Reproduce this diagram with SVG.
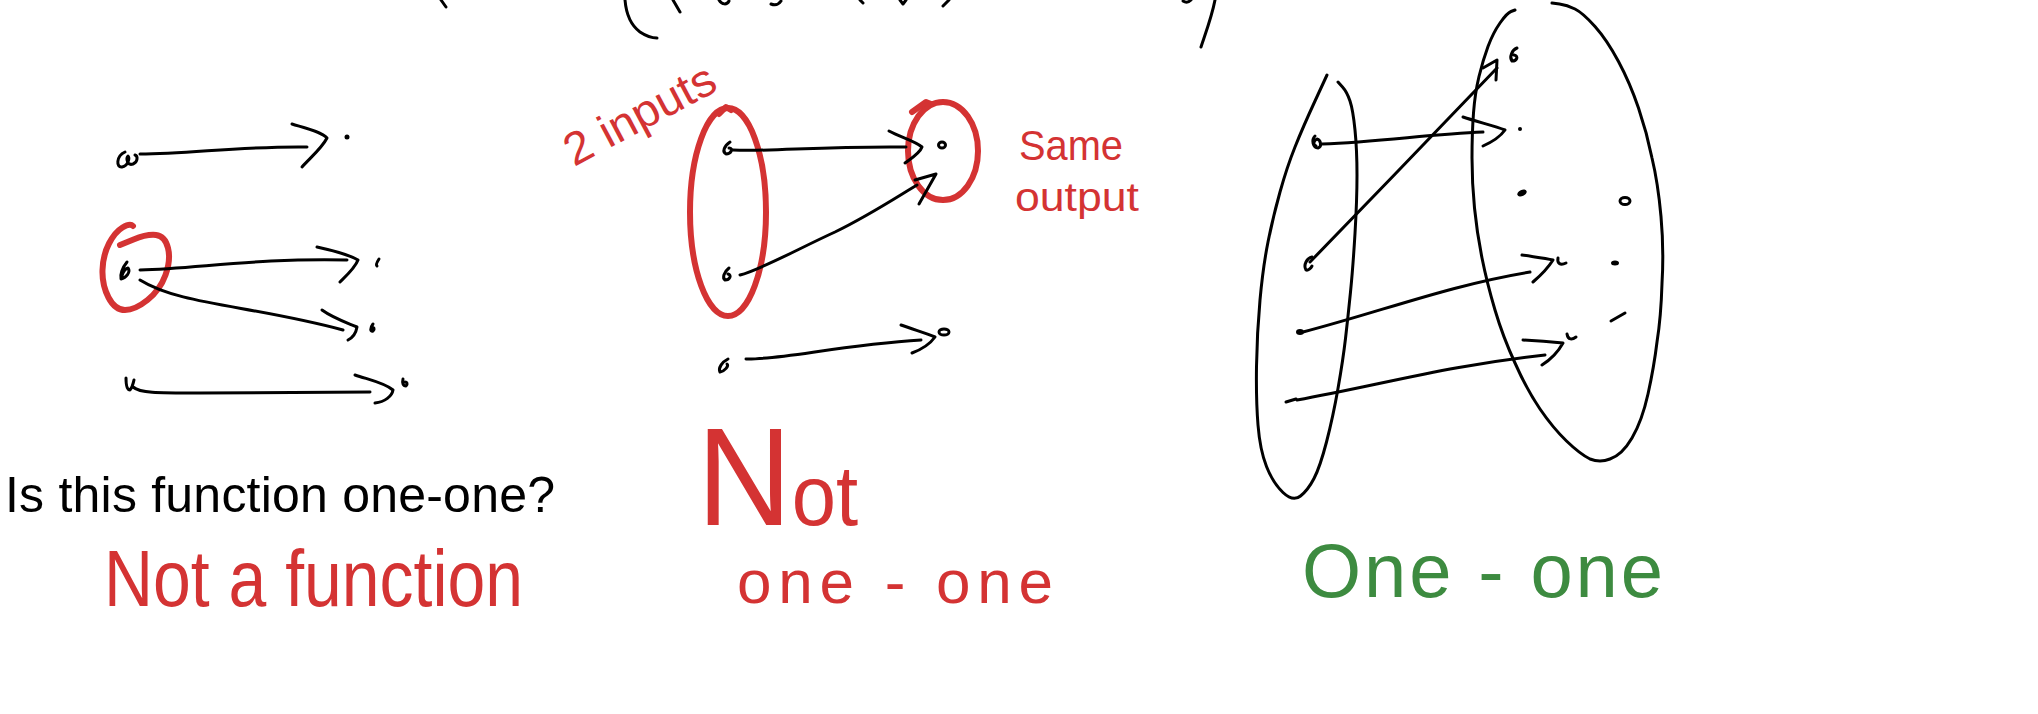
<svg xmlns="http://www.w3.org/2000/svg" width="2038" height="714" viewBox="0 0 2038 714">
<style>
.ink{fill:none;stroke:#000;stroke-width:3;stroke-linecap:round;stroke-linejoin:round}
.red{fill:none;stroke:#d43333;stroke-width:6;stroke-linecap:round;stroke-linejoin:round}
.dot{fill:#000}
.t{font-family:"Liberation Sans",Arial,sans-serif}
.tr{fill:#d43333}
.tg{fill:#3d8b40}
.tb{fill:#000}
</style>
<rect width="2038" height="714" fill="#fff"/>

<g id="top-fragments">
<path class="ink" d="M441,0 L446,7"/>
<path class="ink" d="M625,0 C626,12 629,24 640,32 C646,36 652,38 657,38"/>
<path class="ink" d="M673,0 L680,12"/>
<path class="ink" d="M719,0 C722,5 727,5 729,1"/>
<path class="ink" d="M771,4 C776,6 779,4 781,1"/>
<path class="ink" d="M860,0 L863,3"/>
<path class="ink" d="M900,0 L903,4 L906,0"/>
<path class="ink" d="M949,0 L943,6"/>
<path class="ink" d="M1183,1 C1186,3 1189,2 1191,0"/>
<path class="ink" d="M1215,0 C1212,16 1206,32 1201,47"/>
</g>

<g id="left-diagram">
<g id="L-in1"><path class="ink" d="M125,152 C116,156 116,168 122,167 C128,166 130,158 128,156 C126,158 127,166 133,164 C138,162 138,156 135,155"/></g>
<g id="L-in2"><path class="ink" d="M127,262 C122,268 120,275 121,279 C126,278 131,272 128,268 C124,269 123,272 122,276"/></g>
<g id="L-in3"><path class="ink" d="M126,378 C126,385 127,390 130,390 C133,387 133,383 134,380"/></g>
<g id="L-out1"><circle class="dot" cx="347" cy="137" r="2.5"/></g>
<g id="L-out2"><path class="ink" d="M379,259 C377,262 376,265 377,266"/></g>
<g id="L-out3"><path class="ink" d="M373,324 C370,328 370,332 373,331 C375,329 374,327 372,328"/></g>
<g id="L-out4"><path class="ink" d="M403,379 C402,383 403,386 406,386 C408,384 407,382 405,382"/></g>
<g id="L-circle"><path class="red" d="M120,245 L133.5,239.5 Q147,234 156,235 Q165,236 168,248 Q171,260 165.5,275 Q160,290 147.5,300 Q135,310 125,310 Q115,310 108.5,297.5 Q102,285 102.5,270 Q103,255 109,243.5 Q115,232 122.5,227.5 Q130,223 133,226"/></g>
</g>

<g id="middle-diagram">
<g id="M-in1"><path class="ink" d="M730,142 C724,146 722,152 726,154 C731,154 734,148 729,148"/></g>
<g id="M-in2"><path class="ink" d="M729,268 C724,272 722,278 725,280 C730,280 732,275 728,274"/></g>
<g id="M-in3"><path class="ink" d="M728,359 C722,362 718,368 720,372 C725,371 729,366 727,364"/></g>
<g id="M-out1"><ellipse class="ink" cx="942" cy="145" rx="3.5" ry="3"/></g>
<g id="M-out2"><ellipse class="ink" cx="944" cy="332" rx="5" ry="3"/></g>
<g id="M-inputs"><ellipse class="red" cx="728" cy="212" rx="38" ry="104"/><path class="red" d="M719,114 L726,107 L731,110"/></g>
<g id="M-output"><ellipse class="red" cx="943" cy="151" rx="35" ry="49"/><path class="red" d="M912,112 L926,102 L931,104"/></g>
</g>

<g id="right-diagram">
<g id="R-domain"><path class="ink" d="M1327,75 L1315,101 Q1303,127 1295,147 Q1287,167 1280,192 Q1273,217 1268,242 Q1263,267 1260,300 Q1257,333 1256.5,366.5 Q1256,400 1258,425 Q1260,450 1266.5,466.5 Q1273,483 1283,492.5 Q1293,502 1300.5,496 Q1308,490 1314,478.5 Q1320,467 1326.5,442 Q1333,417 1338,388.5 Q1343,360 1345.5,338.5 Q1348,317 1350.5,292 Q1353,267 1355,233.5 Q1357,200 1357,175 Q1357,150 1355,130 Q1353,110 1350,101 Q1347,92 1342.5,87 L1338,82"/></g>
<g id="R-codomain"><path class="ink" d="M1515,10 L1511,11.5 Q1507,13 1500,23 Q1493,33 1488,46.5 Q1483,60 1479,76.5 Q1475,93 1473.5,113 Q1472,133 1472,158 Q1472,183 1474.5,208 Q1477,233 1482,258 Q1487,283 1495,310 Q1503,337 1515,363 Q1527,390 1540,409 Q1553,428 1566.5,441 Q1580,454 1590,459 Q1600,463 1610,459 Q1622,455 1632,438 Q1642,421 1648,394 Q1654,367 1657,342 Q1661,317 1662,283.5 Q1664,250 1661,216.5 Q1658,183 1652,158 Q1647,133 1638.5,108 Q1630,83 1618.5,61.5 Q1607,40 1595,26.5 Q1583,13 1575,9 Q1567,5 1559.5,4 L1552,3"/></g>
<g id="R-in1"><path class="ink" d="M1315,136 C1311,140 1313,148 1318,148 C1322,147 1321,140 1317,139 C1313,141 1313,145 1316,146"/></g>
<g id="R-in2"><path class="ink" d="M1312,257 C1307,258 1303,265 1306,270 C1308,271 1311,268 1312,266"/></g>
<g id="R-in3"><ellipse class="dot" cx="1300" cy="332" rx="4" ry="3"/></g>
<g id="R-in4"><path class="ink" d="M1286,402 L1296,399"/></g>
<g id="R-out1"><path class="ink" d="M1517,48 C1512,50 1509,57 1512,61 C1517,61 1519,56 1514,55"/></g>
<g id="R-out2"><circle class="dot" cx="1520" cy="129" r="2"/></g>
<g id="R-out3"><ellipse class="dot" cx="1522" cy="193" rx="5" ry="3" transform="rotate(-25 1522 193)"/></g>
<g id="R-out4"><ellipse class="ink" cx="1625" cy="201" rx="5" ry="3.5"/></g>
<g id="R-out5"><path class="ink" d="M1558,258 C1557,263 1560,266 1566,263"/></g>
<g id="R-out6"><ellipse class="dot" cx="1615" cy="263" rx="4" ry="2.5"/></g>
<g id="R-out7"><path class="ink" d="M1611,321 L1625,313"/></g>
<g id="R-out8"><path class="ink" d="M1567,334 C1568,340 1572,340 1576,337"/></g>
</g>

<g id="connectors">
<path class="ink" d="M140,154 C190,154 240,146 307,147"/>
<path class="ink" d="M292,124 C305,128 322,132 327,138 C322,148 310,158 302,167"/>
<path class="ink" d="M140,270 C200,268 260,258 347,260"/>
<path class="ink" d="M317,247 C335,251 350,255 358,260 C355,268 346,276 340,282"/>
<path class="ink" d="M140,280 C180,305 250,305 343,330"/>
<path class="ink" d="M322,310 C333,318 345,322 357,327 C356,333 352,338 348,340"/>
<path class="ink" d="M133,387 C140,393 155,393 200,393 L370,392"/>
<path class="ink" d="M355,375 C370,380 385,383 393,390 C392,396 385,402 375,403"/>

<path class="ink" d="M733,150 C770,152 820,146 906,147"/>
<path class="ink" d="M889,131 C900,137 915,141 922,147 C920,153 912,158 905,163"/>
<path class="ink" d="M740,275 C760,270 800,248 835,232 C870,215 900,195 917,185"/>
<path class="ink" d="M915,180 L936,174 L919,204"/>
<path class="ink" d="M746,359 C780,360 840,345 921,340"/>
<path class="ink" d="M901,325 C915,330 928,334 935,337 C930,344 920,350 912,353"/>

<path class="ink" d="M1322,144 C1380,142 1430,134 1483,132"/>
<path class="ink" d="M1463,117 C1478,122 1495,126 1505,130 C1500,137 1492,142 1483,146"/>
<path class="ink" d="M1310,262 C1370,200 1440,128 1497,68"/>
<path class="ink" d="M1483,68 L1497,60 L1496,80"/>
<path class="ink" d="M1303,332 C1380,312 1450,285 1530,272"/>
<path class="ink" d="M1522,255 C1535,257 1545,258 1553,260 C1548,268 1540,276 1533,282"/>
<path class="ink" d="M1297,400 C1380,385 1450,365 1545,355"/>
<path class="ink" d="M1523,340 C1540,341 1552,342 1563,343 C1558,352 1550,360 1542,365"/>
</g>

<g id="labels">
<text class="t tb" x="5" y="512" font-size="50" textLength="550" lengthAdjust="spacing">Is this function one-one?</text>
<text class="t tr" x="104" y="606" font-size="80" textLength="419" lengthAdjust="spacingAndGlyphs">Not a function</text>
<text class="t tr" x="574" y="167" font-size="46" textLength="165" lengthAdjust="spacingAndGlyphs" transform="rotate(-28 574 167)">2 inputs</text>
<text class="t tr" x="1019" y="160" font-size="42" textLength="104" lengthAdjust="spacingAndGlyphs">Same</text>
<text class="t tr" x="1015" y="211" font-size="40" textLength="124" lengthAdjust="spacingAndGlyphs">output</text>
<text class="t tr" x="697" y="525" textLength="161" lengthAdjust="spacingAndGlyphs"><tspan font-size="140">N</tspan><tspan font-size="85">ot</tspan></text>
<text class="t tr" x="737" y="603" font-size="62" textLength="316" lengthAdjust="spacing">one - one</text>
<text class="t tg" x="1302" y="597" font-size="76" textLength="361" lengthAdjust="spacing">One - one</text>
</g>
</svg>
